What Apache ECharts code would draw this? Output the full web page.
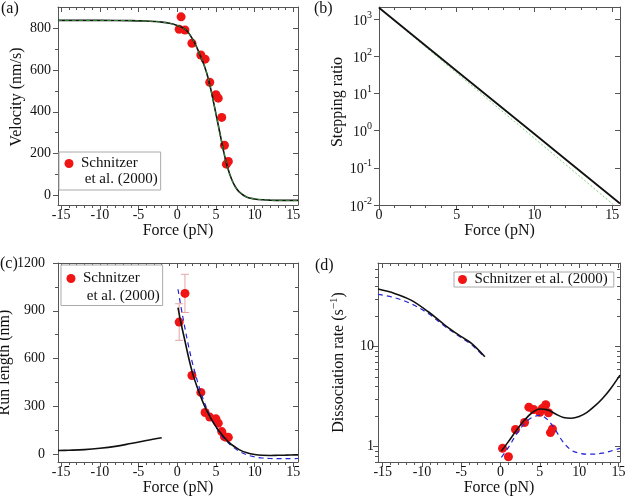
<!DOCTYPE html>
<html><head><meta charset="utf-8">
<script src="https://cdn.jsdelivr.net/npm/echarts@6/dist/echarts.min.js"></script>
<style>html,body{margin:0;padding:0;background:#fff}#c{width:625px;height:500px}</style>
</head><body><div id="c"></div>
<script>
// ---------- data ----------
// shared experimental forces (pN)
const expForce = [0.25, 1.0, 1.9, 3.05, 3.6, 4.2, 5.0, 5.3, 5.75, 6.1, 6.35, 6.6];
// (a) velocity
const aExpForce = [0.25, 0.5, 1.0, 1.9, 3.05, 3.6, 4.2, 5.0, 5.3, 5.75, 6.1, 6.35, 6.6];
const aExpVel = [794, 853, 790, 727, 671, 651, 541, 481, 465, 373, 240, 150, 163];
const aCurveF = [-15.4, -10, -6, -4, -3, -2, -1, 0, 0.5, 1, 1.5, 2, 2.5, 3, 3.5, 4, 4.5, 5, 5.5, 6, 6.5, 7, 7.5, 8, 9, 10, 11, 12, 13, 15.6];
const aCurveV = [836, 836, 835, 833, 831, 828, 822, 812, 805, 794, 775, 745, 710, 665, 620, 560, 480, 390, 300, 210, 135, 80, 42, 18, -8, -16, -20, -22, -23, -23];
// (b) stepping ratio
const bF = [0, 5, 10, 15.5];
const bRatio = [2000, 40, 0.81, 0.011];
const bF2 = [0, 5, 10, 15.1];
const bRatio2 = [2000, 35, 0.62, 0.01];
// (c) run length
const cExpLen = [829, 1009, 493, 387, 261, 232, 221, 194, 141, 109, 105, 105];
const cExpErr = [115, 120, 0, 0, 0, 0, 0, 0, 0, 0, 0, 0];
const cLeftF = [-15.4, -14, -12, -10, -8, -6, -4, -2];
const cLeftL = [22, 24, 28, 36, 48, 66, 85, 102];
const cRightF = [0.1, 0.5, 1, 1.5, 2, 2.5, 3, 3.5, 4, 4.5, 5, 5.5, 6, 6.5, 7, 8, 9, 10, 11, 12, 13, 14, 15.6];
const cBlack = [920, 820, 710, 600, 505, 430, 365, 305, 255, 210, 172, 138, 108, 82, 60, 28, 8, -3, -8, -9, -8, -7, -5];
const cBlue = [1035, 920, 790, 670, 565, 475, 395, 325, 265, 215, 170, 132, 100, 75, 52, 18, -5, -18, -25, -28, -29, -29, -28];
// (d) dissociation rate
const dExpRate = [0.96, 0.79, 1.48, 1.74, 2.48, 2.35, 2.2, 2.4, 2.62, 2.18, 1.38, 1.5];
const dLeftF = [-15.6, -13.5, -11.4, -9.2, -7.1, -5, -3.7, -2];
const dLeftBlack = [37.8, 34.2, 29.3, 22.4, 16.5, 12.6, 10.8, 7.94];
const dLeftBlue = [33.5, 31, 27, 21.5, 16, 12.3, 10.5, 7.8];
const dRightF = [0.1, 1, 2, 3, 4, 5, 6, 7, 8, 9, 10, 11, 12, 13, 14, 15.2];
const dRightBlack = [0.9, 1.12, 1.45, 1.82, 2.18, 2.38, 2.33, 2.12, 1.95, 1.92, 2.0, 2.2, 2.55, 3.05, 3.8, 5.2];
const dRightBlue = [0.78, 0.98, 1.32, 1.68, 1.95, 2.05, 1.85, 1.45, 1.1, 0.92, 0.86, 0.84, 0.84, 0.86, 0.9, 0.96];
// ticks
const forceMajor = [-15, -10, -5, 0, 5, 10, 15];
const forceMinor = [-15,-14,-13,-12,-11,-10,-9,-8,-7,-6,-5,-4,-3,-2,-1,0,1,2,3,4,5,6,7,8,9,10,11,12,13,14,15];
const bForceMajor = [0, 5, 10, 15];
const bForceMinor = [0,1,2,3,4,5,6,7,8,9,10,11,12,13,14,15];
const aYMajor = [0, 200, 400, 600, 800];
const aYMinor = [100, 300, 500, 700];
const bYMajor = [0.01, 0.1, 1, 10, 100, 1000];
const cYMajor = [0, 300, 600, 900, 1200];
const cYMinor = [150, 450, 750, 1050];
const dYMajor = [1, 10];
const dYMinor = [0.7, 0.8, 0.9, 2, 3, 4, 5, 6, 7, 8, 9, 20, 30, 40, 50, 60];

// ---------- helpers ----------
const FONT = "'Liberation Serif', 'Times New Roman', serif";
const AX = '#555';
const TXT = '#111';
const zip = (a, b) => a.map((v, i) => [v, b[i]]);
const plain = v => String(v);

function xAxes(gi, min, max, majors, minors, name) {
  const base = {gridIndex: gi, type: 'value', min, max, splitLine: {show: false}};
  return [
    Object.assign({}, base, {position: 'bottom', name, nameLocation: 'middle', nameGap: 16,
      nameTextStyle: {fontFamily: FONT, fontSize: 16, color: TXT},
      axisLine: {show: true, onZero: false, lineStyle: {color: AX}},
      axisTick: {show: true, inside: false, length: 5, customValues: majors, lineStyle: {color: AX}},
      axisLabel: {show: true, customValues: majors, formatter: plain, fontFamily: FONT, fontSize: 14, color: TXT, margin: 3}}),
    Object.assign({}, base, {position: 'bottom', axisLine: {show: false, onZero: false},
      axisTick: {show: true, inside: false, length: 3, customValues: minors, lineStyle: {color: AX}},
      axisLabel: {show: false}}),
    Object.assign({}, base, {position: 'top', axisLine: {show: true, onZero: false, lineStyle: {color: AX}},
      axisTick: {show: true, inside: true, length: 5, customValues: majors, lineStyle: {color: AX}},
      axisLabel: {show: false}}),
    Object.assign({}, base, {position: 'top', axisLine: {show: false, onZero: false},
      axisTick: {show: true, inside: true, length: 3, customValues: minors, lineStyle: {color: AX}},
      axisLabel: {show: false}})
  ];
}
function yAxes(gi, type, min, max, majors, minors, name, nameGap, margin, labelFmt, nameStyle) {
  const base = {gridIndex: gi, type, min, max, splitLine: {show: false}};
  if (type === 'log') base.logBase = 10;
  const lab = {show: true, customValues: majors, formatter: labelFmt || plain, fontFamily: FONT, fontSize: 14, color: TXT, margin};
  if (labelFmt) { lab.rich = {
    b: {fontFamily: FONT, fontSize: 14, color: TXT, verticalAlign: 'bottom', lineHeight: 18},
    s: {fontFamily: FONT, fontSize: 10, color: TXT, verticalAlign: 'top', lineHeight: 10}}; }
  const hasMinor = minors.length > 0;
  return [
    Object.assign({}, base, {position: 'left', name, nameLocation: 'middle', nameGap,
      nameTextStyle: Object.assign({fontFamily: FONT, fontSize: 16, color: TXT}, nameStyle || {}),
      axisLine: {show: true, onZero: false, lineStyle: {color: AX}},
      axisTick: {show: true, inside: false, length: 5, customValues: majors, lineStyle: {color: AX}},
      axisLabel: lab}),
    Object.assign({}, base, {position: 'left', axisLine: {show: false, onZero: false},
      axisTick: {show: hasMinor, inside: false, length: 3, customValues: hasMinor ? minors : majors, lineStyle: {color: AX}},
      axisLabel: {show: false}}),
    Object.assign({}, base, {position: 'right', axisLine: {show: true, onZero: false, lineStyle: {color: AX}},
      axisTick: {show: true, inside: true, length: 5, customValues: majors, lineStyle: {color: AX}},
      axisLabel: {show: false}}),
    Object.assign({}, base, {position: 'right', axisLine: {show: false, onZero: false},
      axisTick: {show: hasMinor, inside: true, length: 3, customValues: hasMinor ? minors : majors, lineStyle: {color: AX}},
      axisLabel: {show: false}})
  ];
}
const supFmt = v => '{b|10}{s|' + Math.round(Math.log10(v)) + '}';

const grids = [
  {left: 58, top: 7, width: 240, height: 198},
  {left: 379, top: 7, width: 241, height: 198},
  {left: 58, top: 263, width: 240, height: 199},
  {left: 378, top: 263, width: 242, height: 199}
].map(g => Object.assign(g, {containLabel: false, outerBoundsMode: 'none'}));

const xAxis = [].concat(
  xAxes(0, -15.4, 15.6, forceMajor, forceMinor, 'Force (pN)'),
  xAxes(1, 0, 15.5, bForceMajor, bForceMinor, 'Force (pN)'),
  xAxes(2, -15.4, 15.6, forceMajor, forceMinor, 'Force (pN)'),
  xAxes(3, -15.6, 15.2, forceMajor, forceMinor, 'Force (pN)')
);
const yAxis = [].concat(
  yAxes(0, 'value', -45, 900, aYMajor, aYMinor, 'Velocity (nm/s)', 33, 7, null, {padding: [0, 0, 0, 18]}),
  yAxes(1, 'log', 0.01, 2100, bYMajor, [], 'Stepping ratio', 30, 7, supFmt, {padding: [0, 0, 0, 8]}),
  yAxes(2, 'value', -50, 1200, cYMajor, cYMinor, 'Run length (nm)', 38, 13, null),
  yAxes(3, 'log', 0.7, 69, dYMajor, dYMinor, '{t|Dissociation rate (s}{s|\u22121}{t|)}', 31, 4, null,
    {rich: {t: {fontFamily: FONT, fontSize: 16, color: TXT, verticalAlign: 'bottom', lineHeight: 18},
            s: {fontFamily: FONT, fontSize: 11, color: TXT, verticalAlign: 'top', lineHeight: 11}}})
);

const RED = '#f01414';
const BLUE = '#2323d8';
function lineS(gi, name, data, color, width, type, z) {
  return {type: 'line', name, xAxisIndex: gi * 4, yAxisIndex: gi * 4, data, showSymbol: false, symbol: 'none',
    smooth: 0.35, lineStyle: {color, width, type}, z: z || 3, silent: true, animation: false, legendHoverLink: false};
}
function scatterS(gi, name, data) {
  return {type: 'scatter', name, xAxisIndex: gi * 4, yAxisIndex: gi * 4, data, symbol: 'circle', symbolSize: 9,
    itemStyle: {color: RED, opacity: 1}, z: 2, animation: false};
}

const errData = expForce.map((f, i) => [f, cExpLen[i], cExpErr[i]]).filter(d => d[2] > 0);

const series = [
  // (a)
  scatterS(0, 'Schnitzer', zip(aExpForce, aExpVel)),
  {type: 'scatter', name: ' et al. (2000)', xAxisIndex: 0, yAxisIndex: 0, data: [], itemStyle: {color: '#fff'}},
  lineS(0, 'a-model', zip(aCurveF, aCurveV), '#111', 1.6, 'solid', 3),
  lineS(0, 'a-model2', zip(aCurveF, aCurveV), '#2f8f2f', 1, [4, 3], 4),
  // (b)
  lineS(1, 'b-model2', zip(bF2, bRatio2), '#7fd67f', 1, [2, 2], 3),
  lineS(1, 'b-model', zip(bF, bRatio), '#111', 1.8, 'solid', 4),
  // (c)
  {type: 'custom', name: 'err', xAxisIndex: 8, yAxisIndex: 8, data: errData, z: 1, animation: false, silent: true,
    renderItem: function (params, api) {
      const x = api.value(0), y = api.value(1), e = api.value(2);
      const lo = api.coord([x, y - e]), hi = api.coord([x, y + e]);
      const st = {stroke: '#e7a3a3', lineWidth: 1};
      return {type: 'group', children: [
        {type: 'line', shape: {x1: lo[0], y1: lo[1], x2: hi[0], y2: hi[1]}, style: st},
        {type: 'line', shape: {x1: lo[0] - 4, y1: lo[1], x2: lo[0] + 4, y2: lo[1]}, style: st},
        {type: 'line', shape: {x1: hi[0] - 4, y1: hi[1], x2: hi[0] + 4, y2: hi[1]}, style: st}
      ]};
    }},
  scatterS(2, 'Schnitzer', zip(expForce, cExpLen)),
  lineS(2, 'c-left', zip(cLeftF, cLeftL), '#111', 1.6, 'solid', 3),
  lineS(2, 'c-blue', zip(cRightF, cBlue), BLUE, 1.2, [5, 4], 3),
  lineS(2, 'c-black', zip(cRightF, cBlack), '#111', 1.6, 'solid', 4),
  // (d)
  scatterS(3, 'Schnitzer et al. (2000)', zip(expForce, dExpRate)),
  lineS(3, 'd-lblue', zip(dLeftF, dLeftBlue), BLUE, 1.2, [5, 4], 3),
  lineS(3, 'd-lblack', zip(dLeftF, dLeftBlack), '#111', 1.6, 'solid', 4),
  lineS(3, 'd-rblue', zip(dRightF, dRightBlue), BLUE, 1.2, [5, 4], 3),
  lineS(3, 'd-rblack', zip(dRightF, dRightBlack), '#111', 1.6, 'solid', 4)
];

const legStyle = {fontFamily: FONT, fontSize: 15, color: TXT, lineHeight: 15};
const legend = [
  {data: [{name: 'Schnitzer', icon: 'circle'}, {name: ' et al. (2000)', icon: 'none'}], orient: 'vertical',
   left: 59, top: 152, padding: [4, 3, 3, 3], itemGap: 1, itemWidth: 14, itemHeight: 9,
   borderColor: '#aaa', borderWidth: 1, backgroundColor: '#fff', textStyle: legStyle, selectedMode: false},
  {data: [{name: 'Schnitzer', icon: 'circle'}, {name: ' et al. (2000)', icon: 'none'}], orient: 'vertical',
   left: 61, top: 265, padding: [6, 3, 2, 3], itemGap: 2.5, itemWidth: 14, itemHeight: 9,
   borderColor: '#aaa', borderWidth: 1, backgroundColor: '#fff', textStyle: legStyle, selectedMode: false},
  {data: [{name: 'Schnitzer et al. (2000)', icon: 'circle'}], orient: 'horizontal',
   left: 454, top: 272, padding: [0, 6, 0, 4], itemWidth: 14, itemHeight: 9,
   borderColor: '#aaa', borderWidth: 1, backgroundColor: '#fff', textStyle: legStyle, selectedMode: false}
];

const tStyle = {fontFamily: FONT, fontSize: 16, fontWeight: 'normal', color: TXT};
const title = [
  {text: '(a)', left: 1, top: 1, padding: 0, textStyle: tStyle},
  {text: '(b)', left: 314, top: 1, padding: 0, textStyle: tStyle},
  {text: '(c)', left: 0, top: 256, padding: 0, textStyle: tStyle},
  {text: '(d)', left: 315, top: 258, padding: 0, textStyle: tStyle}
];

const chart = echarts.init(document.getElementById('c'), null, {renderer: 'canvas'});
chart.setOption({animation: false, backgroundColor: '#fff', title, legend, grid: grids, xAxis, yAxis, series});
</script>
</body></html>
